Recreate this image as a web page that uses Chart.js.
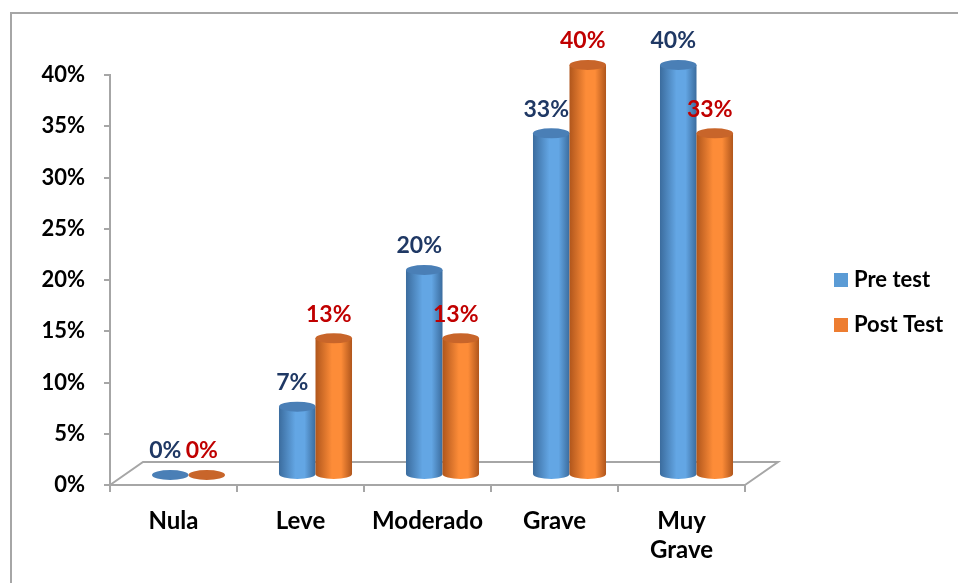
<!DOCTYPE html>
<html>
<head>
<meta charset="utf-8">
<script src="https://cdn.jsdelivr.net/npm/chart.js@4"></script>
<style>
  body { margin: 0; background: #fff; }
  canvas { display: block; }
</style>
</head>
<body>
<canvas id="chart" width="958" height="583"></canvas>
<script>
const categories = ['Nula', 'Leve', 'Moderado', 'Grave', ['Muy', 'Grave']];
const preTest = [0, 6.67, 20, 33.33, 40];
const postTest = [0, 13.33, 13.33, 40, 33.33];
const seriesNames = ['Pre test', 'Post Test'];
const yMax = 40;
const yStep = 5;

const FONT = 'Lato, "Open Sans", sans-serif';
const GREY = '#a6a6a6';

// colours for cylinders: edge, light, top
const palette = [
  { edge: '#3b6c9e', light: '#63a6e4', top: '#4a7fb6', text: '#1f3864', legend: '#5b9bd5' },
  { edge: '#b0561c', light: '#fd8c38', top: '#c8652a', text: '#c00000', legend: '#ed7d31' }
];

// depth offset of the 3d floor / bars
const depth = { dx: 33, dy: -23 };
const barShift = { dx: 15, dy: -10 };

function drawCylinder(ctx, cx, top, base, w, col) {
  const rx = w / 2, ry = 5;
  const left = cx - rx;
  if (base - top > 0.5) {
    let grad = ctx.createLinearGradient(left, 0, left + w, 0);
    grad.addColorStop(0, col.edge);
    grad.addColorStop(0.45, col.light);
    grad.addColorStop(0.7, col.light);
    grad.addColorStop(1, col.edge);
    ctx.fillStyle = grad;
    ctx.beginPath();
    ctx.moveTo(left, top);
    ctx.lineTo(left, base);
    ctx.ellipse(cx, base, rx, ry, 0, Math.PI, 0, true);
    ctx.lineTo(left + w, top);
    ctx.closePath();
    ctx.fill();
  }
  ctx.fillStyle = col.top;
  ctx.beginPath();
  ctx.ellipse(cx, top, rx, ry, 0, 0, Math.PI * 2);
  ctx.fill();
}

const chart3d = {
  id: 'chart3d',
  beforeDraw(chart) {
    const ctx = chart.ctx;
    ctx.save();
    ctx.strokeStyle = GREY;
    ctx.lineWidth = 2;
    ctx.beginPath();
    ctx.moveTo(11, chart.height);
    ctx.lineTo(11, 13);
    ctx.lineTo(chart.width, 13);
    ctx.stroke();
    ctx.restore();
  },
  beforeDatasetsDraw(chart) {
    const a = chart.chartArea;
    const ctx = chart.ctx;
    ctx.save();
    ctx.strokeStyle = GREY;
    ctx.lineWidth = 2;
    ctx.beginPath();
    ctx.moveTo(a.left, a.bottom);
    ctx.lineTo(a.left + depth.dx, a.bottom + depth.dy);
    ctx.lineTo(a.right + depth.dx, a.bottom + depth.dy);
    ctx.lineTo(a.right, a.bottom);
    ctx.stroke();
    ctx.restore();
  },
  beforeDatasetDraw() {
    return false;
  },
  afterDatasetsDraw(chart) {
    const ctx = chart.ctx;
    ctx.save();
    chart.data.datasets.forEach((ds, i) => {
      const meta = chart.getDatasetMeta(i);
      meta.data.forEach((bar) => {
        drawCylinder(ctx, bar.x + barShift.dx, bar.y + barShift.dy,
          bar.base + barShift.dy, bar.width, palette[i]);
      });
    });
    ctx.font = 'bold 23px ' + FONT;
    ctx.textAlign = 'center';
    ctx.textBaseline = 'middle';
    chart.data.datasets.forEach((ds, i) => {
      const meta = chart.getDatasetMeta(i);
      ctx.fillStyle = palette[i].text;
      meta.data.forEach((bar, j) => {
        ctx.fillText(Math.round(ds.data[j]) + '%', bar.x + 10, bar.y - 34);
      });
    });
    ctx.restore();
  },
  afterDraw(chart) {
    const ctx = chart.ctx;
    const a = chart.chartArea;
    ctx.save();
    ctx.font = 'bold 22px ' + FONT;
    ctx.textBaseline = 'middle';
    ctx.textAlign = 'left';
    const x = a.right + 89;
    const y0 = a.top + 205;
    chart.data.datasets.forEach((ds, i) => {
      const y = y0 + i * 45;
      ctx.fillStyle = palette[i].legend;
      ctx.fillRect(x, y - 7, 14, 14);
      ctx.fillStyle = '#000';
      ctx.fillText(ds.label, x + 20, y);
    });
    ctx.restore();
  }
};

new Chart(document.getElementById('chart'), {
  type: 'bar',
  data: {
    labels: categories,
    datasets: [
      { label: seriesNames[0], data: preTest, backgroundColor: palette[0].legend },
      { label: seriesNames[1], data: postTest, backgroundColor: palette[1].legend }
    ]
  },
  options: {
    responsive: false,
    animation: false,
    layout: { padding: { top: 75, right: 213, left: 0, bottom: 0 } },
    datasets: { bar: { barPercentage: 1, categoryPercentage: 0.575 } },
    plugins: {
      legend: { display: false },
      tooltip: { enabled: false }
    },
    scales: {
      x: {
        afterFit: (s) => { s.height = 98; },
        border: { color: GREY, width: 2 },
        grid: { drawOnChartArea: false, color: GREY, lineWidth: 2, tickLength: 7 },
        ticks: {
          color: '#000',
          padding: 15,
          font: { family: FONT, size: 24, weight: 'bold', lineHeight: 1.2 }
        }
      },
      y: {
        min: 0,
        max: yMax,
        afterFit: (s) => { s.width = 110; },
        border: { color: GREY, width: 2 },
        grid: { drawOnChartArea: false, color: GREY, lineWidth: 2, tickLength: 6 },
        ticks: {
          stepSize: yStep,
          color: '#000',
          padding: 19,
          font: { family: FONT, size: 22, weight: 'bold' },
          callback: (v) => v + '%'
        }
      }
    }
  },
  plugins: [chart3d]
});
</script>
</body>
</html>
